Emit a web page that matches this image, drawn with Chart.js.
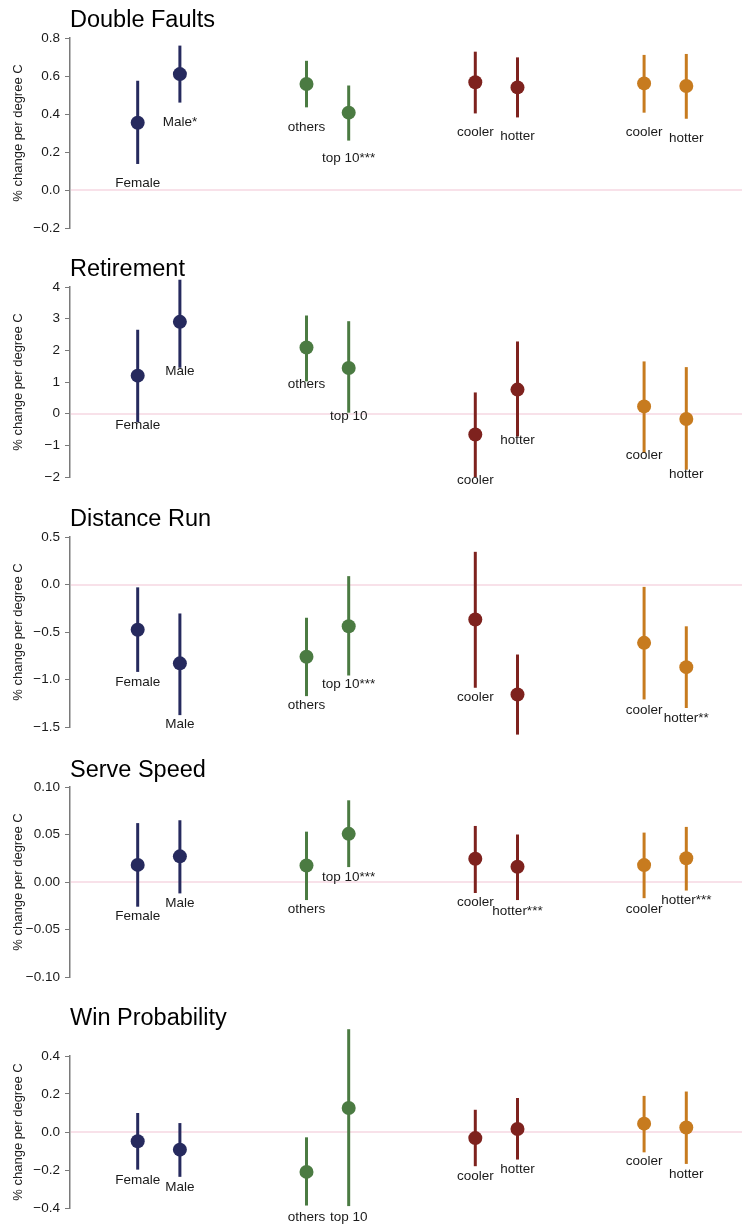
<!DOCTYPE html>
<html>
<head>
<meta charset="utf-8">
<script src="https://cdn.jsdelivr.net/npm/chart.js@4.4.1/dist/chart.umd.min.js"></script>
<style>
  html, body { margin: 0; padding: 0; background: #fff; }
  #wrap { position: relative; width: 742px; height: 1224px; overflow: hidden; }
  #wrap canvas { position: absolute; left: 0; }
</style>
</head>
<body>
<div id="wrap"></div>
<script>
// ========== DATA ==========
const categories = ["Female", "Male", "others", "top 10", "cooler", "hotter", "cooler", "hotter"];
const categoryX  = [1, 2, 5, 6, 9, 10, 13, 14];

const doubleFaultsEst    = [0.354, 0.61, 0.558, 0.407, 0.567, 0.540, 0.561, 0.547];
const doubleFaultsLo     = [0.137, 0.46, 0.435, 0.26, 0.403, 0.382, 0.407, 0.375];
const doubleFaultsHi     = [0.575, 0.76, 0.68, 0.55, 0.728, 0.698, 0.711, 0.716];
const doubleFaultsLabels = ["Female", "Male*", "others", "top 10***", "cooler", "hotter", "cooler", "hotter"];

const retirementEst    = [1.20, 2.90, 2.09, 1.44, -0.66, 0.76, 0.23, -0.17];
const retirementLo     = [-0.27, 1.45, 1.02, 0.03, -2.0, -0.72, -1.24, -1.77];
const retirementHi     = [2.65, 4.23, 3.10, 2.92, 0.67, 2.28, 1.65, 1.47];
const retirementLabels = ["Female", "Male", "others", "top 10", "cooler", "hotter", "cooler", "hotter"];

const distanceEst    = [-0.477, -0.83, -0.76, -0.44, -0.368, -1.158, -0.614, -0.87];
const distanceLo     = [-0.92, -1.375, -1.175, -0.958, -1.087, -1.58, -1.21, -1.30];
const distanceHi     = [-0.03, -0.305, -0.35, 0.088, 0.344, -0.737, -0.025, -0.44];
const distanceLabels = ["Female", "Male", "others", "top 10***", "cooler", "", "cooler", "hotter**"];

const serveEst    = [0.018, 0.027, 0.0174, 0.0507, 0.0245, 0.016, 0.0178, 0.025];
const serveLo     = [-0.026, -0.012, -0.019, 0.0157, -0.0116, -0.019, -0.017, -0.009];
const serveHi     = [0.062, 0.065, 0.053, 0.086, 0.059, 0.050, 0.052, 0.058];
const serveLabels = ["Female", "Male", "others", "top 10***", "cooler", "hotter***", "cooler", "hotter***"];

const winEst    = [-0.049, -0.093, -0.21, 0.126, -0.032, 0.016, 0.044, 0.024];
const winLo     = [-0.198, -0.236, -0.387, -0.39, -0.18, -0.145, -0.107, -0.168];
const winHi     = [0.10, 0.047, -0.028, 0.541, 0.117, 0.179, 0.19, 0.213];
const winLabels = ["Female", "Male", "others", "top 10", "cooler", "hotter", "cooler", "hotter"];

// ========== STYLE ==========
const NAVY = "#262a5e", GREEN = "#4b7b42", RED = "#7e221e", ORANGE = "#c77b1f";
const pointColors = [NAVY, NAVY, GREEN, GREEN, RED, RED, ORANGE, ORANGE];
const FONT = "Helvetica, Arial, 'Liberation Sans', sans-serif";
const AXIS_GREY = "#7a7a7a";
const ZERO_PINK = "#f2c4d4";

// labelDy = label distance below each marker (px)
const panels = [
  { title: "Double Faults", est: doubleFaultsEst, lo: doubleFaultsLo, hi: doubleFaultsHi, labels: doubleFaultsLabels,
    min: -0.2, max: 0.8, step: 0.2, dec: 1, areaTop: 38, areaBottom: 228, titleGap: 17,
    labelDy: [61, 48, 43, 46, 50, 49, 49, 52] },
  { title: "Retirement", est: retirementEst, lo: retirementLo, hi: retirementHi, labels: retirementLabels,
    min: -2, max: 4, step: 1, dec: 0, areaTop: 287, areaBottom: 477, titleGap: 17,
    labelDy: [50, 49, 37, 48, 46, 51, 49, 55] },
  { title: "Distance Run", est: distanceEst, lo: distanceLo, hi: distanceHi, labels: distanceLabels,
    min: -1.5, max: 0.5, step: 0.5, dec: 1, areaTop: 537, areaBottom: 727, titleGap: 17,
    labelDy: [52, 61, 49, 58, 78, 0, 67, 51] },
  { title: "Serve Speed", est: serveEst, lo: serveLo, hi: serveHi, labels: serveLabels,
    min: -0.1, max: 0.1, step: 0.05, dec: 2, areaTop: 787, areaBottom: 977, titleGap: 16,
    labelDy: [51, 47, 44, 43, 44, 44, 44, 42] },
  { title: "Win Probability", est: winEst, lo: winLo, hi: winHi, labels: winLabels,
    min: -0.4, max: 0.4, step: 0.2, dec: 1, areaTop: 1056, areaBottom: 1208, titleGap: 37,
    labelDy: [39, 38, 45, 109, 38, 40, 38, 47] },
];

const TOP_ROOM = 60, BOTTOM_ROOM = 40, TITLE_SIZE = 23.5;

function makeErrorBarPlugin(panel) {
  return {
    id: "errorBars",
    beforeDatasetsDraw(chart) {
      const { ctx, chartArea, scales: { x, y } } = chart;
      ctx.save();
      // zero reference line
      ctx.fillStyle = ZERO_PINK;
      ctx.fillRect(chartArea.left + 1, Math.round(y.getPixelForValue(0)) - 0.5, chartArea.right - chartArea.left, 1);
      ctx.lineWidth = 3;
      panel.lo.forEach((lo, i) => {
        const px = x.getPixelForValue(categoryX[i]);
        ctx.strokeStyle = pointColors[i];
        ctx.beginPath();
        ctx.moveTo(px, y.getPixelForValue(lo));
        ctx.lineTo(px, y.getPixelForValue(panel.hi[i]));
        ctx.stroke();
      });
      ctx.restore();
    },
    afterDatasetsDraw(chart) {
      const { ctx, scales: { x, y } } = chart;
      ctx.save();
      ctx.fillStyle = "#1a1a1a";
      ctx.font = "13.5px " + FONT;
      ctx.textAlign = "center";
      ctx.textBaseline = "middle";
      panel.labels.forEach((txt, i) => {
        if (!txt) return;
        const px = x.getPixelForValue(categoryX[i]);
        const py = y.getPixelForValue(panel.est[i]) + panel.labelDy[i];
        ctx.fillText(txt, px, py);
      });
      ctx.restore();
    },
  };
}

const wrap = document.getElementById("wrap");

panels.forEach((panel) => {
  const canvas = document.createElement("canvas");
  const height = panel.areaBottom - panel.areaTop + TOP_ROOM + BOTTOM_ROOM;
  canvas.style.top = (panel.areaTop - TOP_ROOM) + "px";
  canvas.style.width = "742px";
  canvas.style.height = height + "px";
  canvas.width = 742;
  canvas.height = height;
  wrap.appendChild(canvas);

  const lineH = TITLE_SIZE * 1.2;
  const titlePadTop = TOP_ROOM - panel.titleGap - lineH / 2;
  const titlePadBottom = panel.titleGap - lineH / 2;

  new Chart(canvas, {
    type: "scatter",
    data: {
      datasets: [{
        data: panel.est.map((v, i) => ({ x: categoryX[i], y: v })),
        backgroundColor: pointColors,
        borderColor: pointColors,
        borderWidth: 0,
        pointRadius: 7,
        clip: false,
      }],
    },
    options: {
      responsive: false,
      animation: false,
      events: [],
      layout: { autoPadding: false, padding: { top: 0, bottom: BOTTOM_ROOM, left: 0, right: 0 } },
      plugins: {
        legend: { display: false },
        tooltip: { enabled: false },
        title: {
          display: true,
          text: panel.title,
          align: "start",
          fullSize: false,
          color: "#000",
          font: { family: FONT, size: TITLE_SIZE, weight: "normal" },
          padding: { top: titlePadTop, bottom: titlePadBottom },
        },
      },
      scales: {
        x: { type: "linear", min: -0.604, max: 15.32, display: false },
        y: {
          min: panel.min,
          max: panel.max,
          afterFit(scale) { scale.width = 70; },
          border: { color: AXIS_GREY, width: 1.5 },
          grid: {
            drawOnChartArea: false,
            color: AXIS_GREY,
            tickColor: AXIS_GREY,
            tickLength: 5,
            lineWidth: 1,
          },
          ticks: {
            stepSize: panel.step,
            color: "#1a1a1a",
            padding: 5,
            font: { family: FONT, size: 13.5 },
            callback: (v) => {
              const s = Math.abs(v) < 1e-9 ? (0).toFixed(panel.dec) : v.toFixed(panel.dec);
              return s.replace("-", "\u2212");
            },
          },
          title: {
            display: true,
            text: "% change per degree C",
            color: "#1a1a1a",
            font: { family: FONT, size: 13 },
            padding: { top: 11, bottom: 0 },
          },
        },
      },
    },
    plugins: [makeErrorBarPlugin(panel)],
  });
});
</script>
</body>
</html>
